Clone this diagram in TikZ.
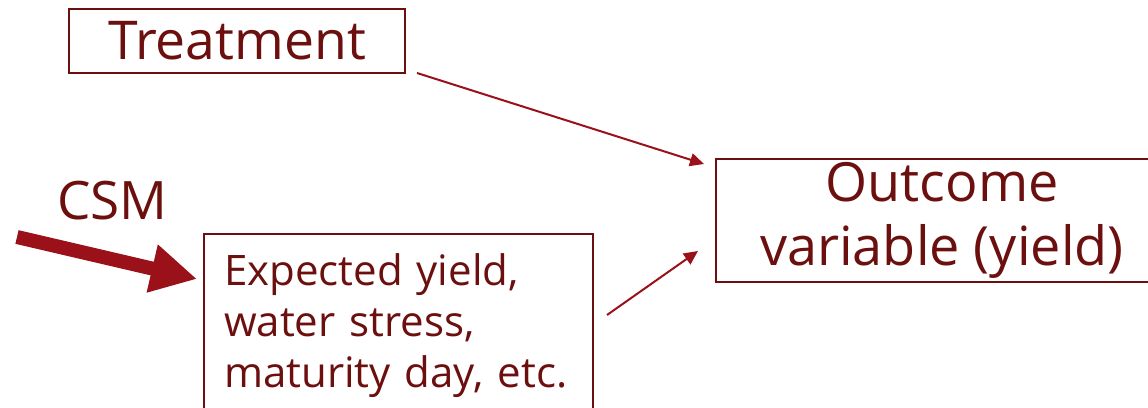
\documentclass[tikz,border=0pt]{standalone}
\usepackage{fontspec}
\setmainfont{Open Sans}
\usepackage{xcolor}
\usetikzlibrary{arrows.meta}
\usetikzlibrary{positioning}

\definecolor{boxred}{HTML}{6B0F0F}
\definecolor{arrred}{HTML}{9A1119}

\begin{document}
\begin{tikzpicture}[x=1pt,y=1pt]
	\tikzstyle{box}=[draw=boxred,line width=2pt,text=boxred,inner sep=0pt]
	\tikzstyle{edge}=[draw=arrred,line width=2pt]
	\tikzstyle{bigedge}=[draw=arrred,line width=14pt]

	\useasboundingbox (0,0) rectangle (1148,-407);

	\node [box,minimum width=336pt,minimum height=64pt,font=\fontsize{53.5}{60}\selectfont] (treat) at (237,-41) {Treatment};
	\node [box,anchor=north west,minimum width=452pt,minimum height=123pt,align=center,font=\fontsize{54}{64}\selectfont] (outcome) at (715,-158) {Outcome\\variable (yield)};
	\node [box,anchor=north west,inner sep=20pt,text width=349pt,align=left,font=\fontsize{42}{51}\selectfont] (exp) at (203,-233) {Expected yield,\\water stress,\\maturity day, etc.};
	\node [text=boxred,anchor=base west,inner sep=0pt,font=\fontsize{53}{60}\selectfont] (csm) at (57,-219) {CSM};
	\coordinate (csmtail) at (17,-237);

	\path[edge,-{Triangle[length=14pt,width=13pt]}] ([xshift=11pt,yshift=1pt]treat.south east) -- ([xshift=-11pt,yshift=-6pt]outcome.north west);
	\path[edge,-{Triangle[length=14pt,width=13pt]}] ([xshift=13pt,yshift=-82pt]exp.north east) -- ([xshift=-17pt,yshift=-93pt]outcome.north west);
	\path[bigedge,-{Triangle[length=46pt,width=46pt]}] (csmtail) -- ([xshift=-6pt,yshift=-46pt]exp.north west);

\end{tikzpicture}
\end{document}
